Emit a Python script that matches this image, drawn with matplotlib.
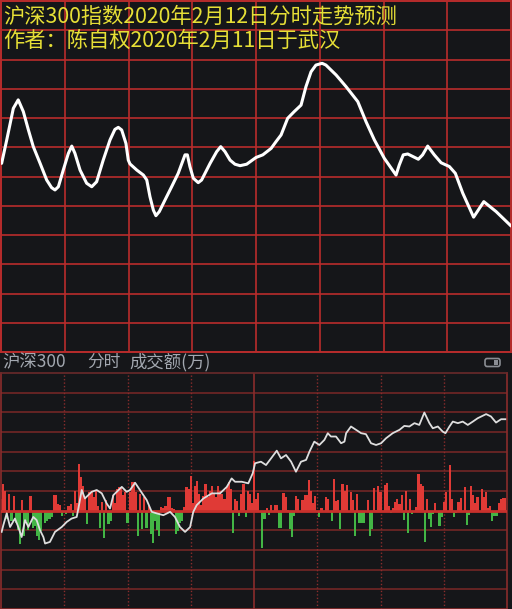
import numpy as np
import matplotlib
matplotlib.use("Agg")
import matplotlib.pyplot as plt
from matplotlib.patches import FancyBboxPatch, Rectangle

plt.rcParams["font.family"] = ["Noto Sans CJK SC", "DejaVu Sans"]

title_lines = [
    "沪深300指数2020年2月12日分时走势预测",
    "作者：陈自权2020年2月11日于武汉",
]
header_name = "沪深300"
header_mode = "分时"
header_unit = "成交额(万)"

# predicted curve: minutes after open, value in grid units
pred_minute = [
    0.3, 2.7, 5.8, 8.1, 10.5, 12.9, 15.2, 18.4, 21.5, 23.8,
    25.4, 27.0, 29.3, 31.7, 33.3, 34.8, 37.2, 40.3, 42.7, 45.0,
    48.1, 51.3, 53.6, 55.2, 56.8, 58.8, 59.9, 60.7, 63.9, 67.0,
    68.6, 70.1, 71.7, 72.9, 74.5, 77.2, 80.3, 83.4, 86.6, 87.7,
    88.9, 90.5, 92.8, 94.4, 98.4, 101.5, 103.4, 105.4, 107.8, 110.1,
    112.5, 115.6, 120.0, 123.2, 127.1, 129.4, 131.8, 134.9, 138.0, 141.2,
    143.5, 145.9, 148.2, 151.1, 152.9, 157.7, 162.4, 167.9, 171.8, 175.7,
    180.4, 185.9, 187.4, 189.3, 191.4, 196.4, 198.4, 200.8, 203.9, 207.1,
    211.0, 213.8, 217.3, 222.4, 227.2, 233.0, 240.0,
]
pred_value = [
    6.45, 7.25, 8.33, 8.62, 8.22, 7.59, 7.02, 6.45, 5.88, 5.62,
    5.54, 5.65, 6.22, 6.79, 7.04, 6.79, 6.22, 5.77, 5.65, 5.82,
    6.56, 7.25, 7.61, 7.68, 7.59, 7.13, 6.56, 6.43, 6.22, 6.05,
    5.88, 5.31, 4.85, 4.66, 4.80, 5.20, 5.65, 6.11, 6.74, 6.74,
    6.34, 5.94, 5.79, 5.88, 6.45, 6.85, 7.02, 6.85, 6.56, 6.42,
    6.37, 6.42, 6.65, 6.74, 6.96, 7.19, 7.42, 7.99, 8.22, 8.44,
    9.07, 9.58, 9.81, 9.87, 9.81, 9.47, 9.07, 8.56, 7.87, 7.25,
    6.62, 6.05, 6.39, 6.74, 6.77, 6.59, 6.74, 7.04, 6.74, 6.47,
    6.34, 6.11, 5.43, 4.61, 5.14, 4.80, 4.31,
]

# actual intraday line (lower panel), grid units
actual_minute = [
    0.3, 1.1, 2.7, 4.3, 6.6, 8.2, 9.8, 11.4, 13.0, 15.3,
    16.9, 18.5, 20.1, 20.9, 23.2, 25.6, 28.8, 31.2, 33.5, 35.9,
    36.7, 38.3, 39.8, 43.0, 45.4, 47.8, 50.1, 51.7, 53.3, 57.3,
    59.6, 61.2, 63.6, 65.9, 69.1, 71.5, 73.9, 77.0, 80.2, 82.5,
    84.9, 87.3, 89.7, 91.2, 92.8, 96.0, 100.0, 103.9, 107.1, 109.4,
    111.0, 114.2, 117.3, 119.4, 120.5, 123.3, 125.7, 128.1, 130.8, 132.8,
    135.2, 137.6, 139.9, 142.3, 144.7, 146.3, 148.6, 151.0, 153.4, 155.0,
    156.5, 158.9, 161.3, 162.9, 163.7, 166.0, 168.4, 170.8, 173.1, 175.5,
    177.9, 180.3, 182.6, 185.8, 189.0, 191.3, 193.7, 196.1, 198.4, 200.8,
    203.2, 204.8, 207.2, 209.5, 210.8, 212.7, 214.3, 216.7, 219.0, 221.4,
    223.8, 226.1, 230.1, 232.4, 234.8, 237.2, 239.2,
]
actual_value = [
    -1.08, -0.74, -0.14, -0.83, -0.40, -0.83, -1.34, -0.48, -0.83, -0.32,
    -0.48, -0.99, -1.34, -1.67, -1.59, -1.08, -0.83, -0.57, -0.40, -0.32,
    0.11, 1.05, 0.62, 0.96, 1.05, 0.88, 0.37, 0.11, 0.79, 1.21,
    0.96, 1.05, 1.42, 1.05, 0.54, -0.06, -0.14, -0.23, -0.06, -0.32,
    -0.83, -1.08, -0.83, -0.06, 0.28, 0.62, 0.88, 0.88, 1.21, 1.64,
    1.47, 1.47, 1.39, 1.90, 2.41, 2.49, 2.32, 2.66, 3.05, 2.66,
    2.83, 2.49, 1.98, 2.49, 2.58, 3.00, 3.51, 3.34, 3.60, 3.94,
    3.77, 3.77, 3.43, 3.51, 3.94, 4.28, 4.11, 3.94, 3.89, 3.43,
    3.34, 3.43, 3.68, 3.94, 4.11, 4.31, 4.28, 4.45, 4.36, 4.99,
    4.45, 4.19, 4.28, 4.02, 3.94, 4.28, 4.53, 4.45, 4.53, 4.36,
    4.53, 4.70, 4.91, 4.79, 4.48, 4.65, 4.65,
]

# per-minute amount bars (red up, green down)
amount = [
    12, 27, 20, -8, 17, -11, 15, -13, -20, -34,
    11, -26, -10, -20, 15, -18, -16, -26, -30, -21,
    0, -13, -11, -8, -6, 16, 16, 7, 6, -5,
    0, -3, 5, 7, -5, 20, 8, 47, 34, 25,
    14, -14, 19, 19, 14, 20, 5, -18, 9, -28,
    11, -14, -10, 16, 8, 22, 24, 24, 16, 19,
    -13, 19, 29, 29, 19, -26, 17, -19, 14, -18,
    5, -24, -33, -10, -20, -26, 4, 3, 5, 14,
    14, 3, 2, -24, -21, -13, -11, 4, 24, 22,
    35, 8, 25, 30, 17, 6, 15, 27, 14, 20,
    25, 17, 14, 25, 20, 17, 12, 24, 29, 22,
    -23, 12, 10, -5, 17, 27, -6, 20, 17, 8,
    50, 12, 18, 0, -38, -8, 3, -4, 6, 0,
    6, 6, -18, -18, 18, 14, 1, -19, -27, -5,
    15, 12, 0, 11, 16, 16, 31, 20, 8, 15,
    0, -6, 3, 0, 14, 12, 0, -10, 32, 10,
    11, -19, 27, 20, 26, 0, 19, 11, -26, 17,
    -13, -13, -13, 0, 11, -26, -19, 23, 1, 25,
    19, 0, 26, 28, 5, -2, 3, 9, 12, 7,
    16, -9, 20, -23, 12, -3, 0, 4, 37, 27,
    25, -32, 12, -8, -17, -3, 8, 0, -16, -6,
    9, 19, 0, 46, 12, -6, -2, 9, 13, 0,
    24, -15, -4, 25, 16, 8, 14, 0, 22, 14,
    19, 3, 5, -10, -5, -5, 8, 12, 13, 13, 0,
]

bg = "#151619"
grid_top = "#b92c2c"
grid_bot = "#7a2727"
yellow = "#e6df36"

W, H = 512, 609


def box(x0, y0, x1, y1):
    return [x0 / W, 1 - y1 / H, (x1 - x0) / W, (y1 - y0) / H]


fig = plt.figure(figsize=(W / 100, H / 100), dpi=100, facecolor=bg)

# upper panel: forecast
ax_top = fig.add_axes(box(1, 1, 511, 352))
ax_top.set_facecolor(bg)
ax_top.set_xlim(0, 240)
ax_top.set_ylim(0, 12)
for x in range(30, 240, 30):
    ax_top.axvline(x, color=grid_top, lw=1.2, zorder=1)
for y in range(1, 12):
    ax_top.axhline(y, color=grid_top, lw=1.2, zorder=1)
for s in ax_top.spines.values():
    s.set_color(grid_top)
    s.set_linewidth(1.4)
ax_top.set_xticks([])
ax_top.set_yticks([])
ax_top.plot(pred_minute, pred_value, color="white", lw=2.2,
            solid_joinstyle="round", solid_capstyle="round", zorder=3)

fig.text(3 / W, 1 - 17 / H, title_lines[0], color=yellow,
         fontsize=15.3, va="center", ha="left")
fig.text(3 / W, 1 - 41 / H, title_lines[1], color=yellow,
         fontsize=15.3, va="center", ha="left")

# header strip of the lower panel
hdr_color = "#a3a8b0"
fig.text(2 / W, 1 - 362 / H, header_name, color=hdr_color,
         fontsize=12.5, va="center", ha="left")
fig.text(87 / W, 1 - 362 / H, header_mode, color=hdr_color,
         fontsize=12, va="center", ha="left")
fig.text(129 / W, 1 - 362 / H, header_unit, color=hdr_color,
         fontsize=12.5, va="center", ha="left")
fig.add_artist(FancyBboxPatch(
    (485 / W, 1 - 366.5 / H), 15 / W, 8 / H,
    boxstyle="round,pad=0,rounding_size=0.004",
    transform=fig.transFigure, facecolor="none",
    edgecolor="#8a8d93", lw=1.2))
fig.add_artist(Rectangle(
    (494 / W, 1 - 365 / H), 4 / W, 5 / H,
    transform=fig.transFigure, facecolor="#8a8d93", edgecolor="none"))

# lower panel: actual session
ax_bot = fig.add_axes(box(1, 373, 507, 609))
ax_bot.set_facecolor(bg)
ax_bot.set_xlim(0, 240)
ax_bot.set_ylim(-100, 140)
for y in range(-80, 140, 20):
    if y != 0:
        ax_bot.axhline(y, color=grid_bot, lw=1.1, zorder=1)
for x in (30, 60, 90, 150, 180, 210):
    ax_bot.axvline(x, color="#8a2c2c", lw=1.0, ls=(0, (1, 1.5)), zorder=1)
ax_bot.axvline(120, color="#8a2c2c", lw=1.2, zorder=1)
for s in ax_bot.spines.values():
    s.set_color("#8a2c2c")
    s.set_linewidth(1.2)
ax_bot.spines["top"].set_color("#6a2a2a")
ax_bot.set_xticks([])
ax_bot.set_yticks([])

minutes = np.arange(len(amount))
bar_colors = ["#e03a36" if v >= 0 else "#43b545" for v in amount]
ax_bot.bar(minutes, amount, width=1.0, color=bar_colors, linewidth=0,
           antialiased=False, zorder=2)
ax_bot.axhline(0, color="#c8302c", lw=2.0, zorder=3)

ax_price = ax_bot.twinx()
ax_price.set_ylim(-5, 7)
ax_price.axis("off")
ax_price.plot(actual_minute, actual_value, color="#dedede", lw=1.3, zorder=4)

fig.savefig("out.png", dpi=100, facecolor=bg)
